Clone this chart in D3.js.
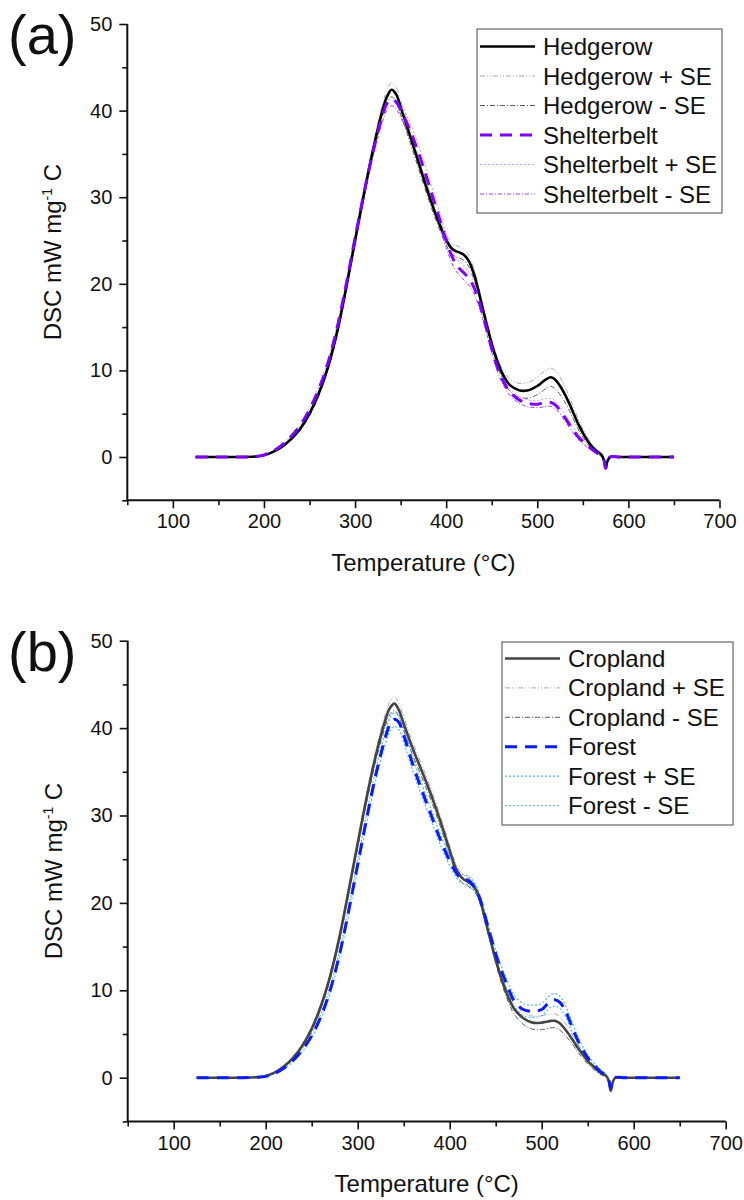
<!DOCTYPE html>
<html>
<head>
<meta charset="utf-8">
<script src="https://cdn.jsdelivr.net/npm/d3@7"></script>
<style>
  html, body { margin: 0; padding: 0; background: #fff; }
  svg { display: block; font-family: "Liberation Sans", Arial, sans-serif; }
</style>
</head>
<body>
<svg id="chart" width="744" height="1200"></svg>
<script>
// Temperature grid (°C) shared by every DSC trace
const temperature = [125,150,175,190,200,210,220,230,240,250,260,270,280,290,300,310,320,330,335,340,345,350,360,370,380,390,400,405,410,415,420,425,430,435,440,445,450,455,460,465,470,480,490,500,505,510,515,520,525,530,535,540,545,550,555,560,565,570,573,575,577,580,590,600,625,650];

// Panel (a) — mean DSC signal (mW mg-1 C) and standard error
const hedgerow = [0,0,0,0.05,0.2,0.6,1.2,2.1,3.3,5.0,7.3,10.3,14.3,19.4,25.0,30.5,35.6,40.0,41.6,42.4,41.9,40.4,37.2,33.9,30.6,27.6,25.1,24.2,23.8,23.6,23.3,22.6,21.3,19.4,17.2,15.1,13.1,11.4,10.0,9.0,8.3,7.7,7.7,8.2,8.6,9.0,9.2,8.9,8.2,7.3,6.2,5.0,3.8,2.8,1.9,1.2,0.7,0.3,-0.3,-1.3,-0.5,0,0,0,0,0];
const hedgerowSE = [0.02,0.02,0.02,0.02,0.02,0.05,0.1,0.15,0.2,0.25,0.3,0.35,0.4,0.45,0.5,0.55,0.6,0.7,0.75,0.8,0.8,0.8,0.75,0.7,0.65,0.6,0.6,0.65,0.65,0.65,0.65,0.65,0.6,0.5,0.4,0.4,0.4,0.45,0.5,0.6,0.7,0.8,0.9,1.0,1.05,1.05,1.05,1.05,1.0,0.9,0.8,0.7,0.6,0.5,0.4,0.3,0.2,0.1,0.1,0.1,0.05,0.02,0.02,0.02,0.02,0.02];
const shelterbelt = [0,0,0,0.05,0.25,0.7,1.4,2.4,3.7,5.5,7.8,10.8,14.8,19.8,25.3,30.6,35.4,39.4,40.8,41.3,41.0,40.1,37.8,35.0,31.8,28.4,25.0,23.5,22.4,21.7,21.2,20.6,19.7,18.3,16.5,14.5,12.5,10.7,9.3,8.3,7.5,6.6,6.2,6.1,6.2,6.3,6.3,6.0,5.4,4.6,3.8,3.0,2.3,1.8,1.3,0.9,0.5,0.2,-0.3,-1.3,-0.5,0,0,0,0,0];
const shelterbeltSE = [0.02,0.02,0.02,0.02,0.02,0.05,0.1,0.15,0.2,0.25,0.3,0.35,0.4,0.45,0.5,0.55,0.6,0.7,0.75,0.75,0.8,0.85,0.9,0.9,0.9,0.85,0.8,0.8,0.8,0.8,0.8,0.75,0.7,0.6,0.5,0.45,0.4,0.4,0.4,0.4,0.4,0.4,0.4,0.4,0.45,0.45,0.45,0.45,0.4,0.4,0.35,0.3,0.3,0.25,0.2,0.15,0.1,0.1,0.1,0.1,0.05,0.02,0.02,0.02,0.02,0.02];

// Panel (b)
const cropland = [0,0,0,0.05,0.2,0.6,1.3,2.3,3.7,5.6,8.2,11.6,16.0,21.3,26.8,32.2,37.0,40.9,42.3,42.8,42.0,40.5,37.6,35.0,32.3,29.3,26.0,24.4,23.3,22.7,22.4,22.0,21.2,19.6,17.5,15.5,13.5,11.7,10.2,8.9,7.9,6.8,6.3,6.3,6.4,6.5,6.5,6.2,5.6,4.9,4.1,3.3,2.6,1.9,1.4,0.9,0.5,0.2,-0.4,-1.5,-0.6,0,0,0,0,0];
const croplandSE = [0.02,0.02,0.02,0.02,0.02,0.05,0.1,0.15,0.2,0.25,0.3,0.35,0.4,0.45,0.5,0.55,0.6,0.7,0.75,0.8,0.8,0.8,0.75,0.7,0.65,0.6,0.55,0.5,0.5,0.5,0.5,0.5,0.45,0.4,0.4,0.4,0.4,0.45,0.5,0.55,0.6,0.7,0.75,0.8,0.8,0.8,0.8,0.75,0.7,0.6,0.5,0.45,0.4,0.35,0.3,0.25,0.2,0.1,0.1,0.1,0.05,0.02,0.02,0.02,0.02,0.02];
const forest = [0,0,0,0.04,0.15,0.5,1.1,2.0,3.2,4.8,7.0,10.0,14.0,19.0,24.4,29.8,34.8,38.9,40.4,41.0,40.6,39.2,35.8,32.8,30.0,27.2,24.8,23.8,23.0,22.7,22.6,22.1,21.2,19.8,17.9,16.0,14.2,12.6,11.2,9.9,8.8,7.8,7.6,7.8,8.3,8.8,8.9,8.6,7.8,6.6,5.3,4.1,3.1,2.3,1.6,1.1,0.6,0.3,-0.3,-1.2,-0.5,0,0,0,0,0];
const forestSE = [0.02,0.02,0.02,0.02,0.02,0.05,0.1,0.15,0.2,0.25,0.3,0.35,0.4,0.45,0.5,0.55,0.6,0.7,0.75,0.8,0.8,0.8,0.75,0.7,0.65,0.6,0.55,0.5,0.5,0.5,0.5,0.5,0.45,0.4,0.4,0.4,0.45,0.5,0.55,0.6,0.65,0.7,0.7,0.7,0.7,0.7,0.7,0.7,0.65,0.6,0.5,0.45,0.4,0.35,0.3,0.25,0.2,0.1,0.1,0.1,0.05,0.02,0.02,0.02,0.02,0.02];

// Axis ticks
const xTicks = [100,200,300,400,500,600,700];
const xMinorTicks = [50,150,250,350,450,550,650];
const yTicks = [0,10,20,30,40,50];
const yMinorTicks = [-5,5,15,25,35,45];

const svg = d3.select("#chart");

function drawPanel(p) {
  const x = d3.scaleLinear().domain([50, 700]).range([p.left, p.right]);
  const y = d3.scaleLinear().domain([-5, 50]).range([p.bottom, p.top]);
  const g = svg.append("g");

  const line = d3.line()
    .x(d => x(d[0]))
    .y(d => y(d[1]))
    .curve(d3.curveCatmullRom.alpha(0.5));

  const pts = vals => temperature.map((t, i) => [t, vals[i]]);
  const plus = (m, s) => m.map((v, i) => v + s[i]);
  const minus = (m, s) => m.map((v, i) => v - s[i]);

  // error-band traces first, means on top
  p.series.forEach(s => {
    g.append("path").attr("d", line(pts(plus(s.mean, s.se))))
      .attr("fill", "none").attr("stroke", s.plusStyle.color)
      .attr("stroke-width", s.plusStyle.width).attr("stroke-dasharray", s.plusStyle.dash);
    g.append("path").attr("d", line(pts(minus(s.mean, s.se))))
      .attr("fill", "none").attr("stroke", s.minusStyle.color)
      .attr("stroke-width", s.minusStyle.width).attr("stroke-dasharray", s.minusStyle.dash);
  });
  p.series.forEach(s => {
    g.append("path").attr("d", line(pts(s.mean)))
      .attr("fill", "none").attr("stroke", s.style.color)
      .attr("stroke-width", s.style.width).attr("stroke-dasharray", s.style.dash)
      .attr("stroke-linejoin", "round");
  });

  // axes
  const xAxis = g.append("g").attr("transform", `translate(0,${p.bottom})`)
    .call(d3.axisBottom(x).tickValues(xTicks).tickSize(8).tickPadding(6).tickFormat(d3.format("d")));
  g.append("g").attr("transform", `translate(0,${p.bottom})`)
    .call(d3.axisBottom(x).tickValues(xMinorTicks).tickSize(5).tickFormat(""))
    .call(a => a.select(".domain").remove());
  const yAxis = g.append("g").attr("transform", `translate(${p.left},0)`)
    .call(d3.axisLeft(y).tickValues(yTicks).tickSize(8).tickPadding(7).tickFormat(d3.format("d")));
  g.append("g").attr("transform", `translate(${p.left},0)`)
    .call(d3.axisLeft(y).tickValues(yMinorTicks).tickSize(5).tickFormat(""))
    .call(a => a.select(".domain").remove());

  g.selectAll(".domain").attr("stroke", "#111").attr("stroke-width", 2);
  xAxis.select(".domain").attr("d", `M${p.left},0H${p.right}`);
  yAxis.select(".domain").attr("d", `M0,${p.bottom}V${p.top}`);
  g.selectAll(".tick line").attr("stroke", "#111").attr("stroke-width", 1.6);
  g.selectAll(".tick text").attr("font-size", 20).attr("fill", "#111")
    .attr("font-family", "Liberation Sans, Arial, sans-serif");

  // axis titles
  g.append("text").attr("x", (p.left + p.right) / 2).attr("y", p.bottom + 71)
    .attr("text-anchor", "middle").attr("font-size", 24).attr("fill", "#111")
    .text("Temperature (°C)");

  const yt = g.append("text")
    .attr("transform", `translate(${p.left - 66},${(p.top + p.bottom) / 2 - 10}) rotate(-90)`)
    .attr("text-anchor", "middle").attr("font-size", 24).attr("fill", "#111");
  yt.append("tspan").text("DSC mW mg");
  yt.append("tspan").attr("dy", -9).attr("font-size", 14).text("-1");
  yt.append("tspan").attr("dy", 9).text(" C");

  // panel letter
  g.append("text").attr("x", 8).attr("y", p.top + 30).attr("font-size", 56)
    .attr("fill", "#111").text(p.letter);

  // legend
  const L = p.legend;
  g.append("rect").attr("x", L.x).attr("y", L.y).attr("width", L.w).attr("height", L.h)
    .attr("fill", "#fff").attr("stroke", "#666").attr("stroke-width", 1.2);
  const entries = [];
  p.series.forEach(s => {
    entries.push({ label: s.name, st: s.style });
    entries.push({ label: s.name + " + SE", st: s.plusStyle });
    entries.push({ label: s.name + " - SE", st: s.minusStyle });
  });
  entries.forEach((e, i) => {
    const cy = L.y + L.row0 + i * L.step;
    g.append("line").attr("x1", L.x + 3).attr("x2", L.x + 58).attr("y1", cy).attr("y2", cy)
      .attr("stroke", e.st.color).attr("stroke-width", e.st.width).attr("stroke-dasharray", e.st.dash);
    g.append("text").attr("x", L.x + 66).attr("y", cy + 8.5).attr("font-size", 24)
      .attr("fill", "#111").text(e.label);
  });
}

drawPanel({
  letter: "(a)",
  left: 127.3, right: 719.5, top: 24, bottom: 500.3,
  legend: { x: 477, y: 29, w: 245, h: 184, row0: 17.5, step: 29.5 },
  series: [
    { name: "Hedgerow", mean: hedgerow, se: hedgerowSE,
      style: { color: "#000", width: 2.6, dash: null },
      plusStyle: { color: "#a8a8a8", width: 1, dash: "5,2,1,2,1,2" },
      minusStyle: { color: "#5a5a5a", width: 1, dash: "5,2,1,2" } },
    { name: "Shelterbelt", mean: shelterbelt, se: shelterbeltSE,
      style: { color: "#7f00ff", width: 3, dash: "12,8" },
      plusStyle: { color: "#c79cff", width: 1, dash: "2,2" },
      minusStyle: { color: "#9a40ff", width: 1, dash: "4,2,1,2" } }
  ]
});

drawPanel({
  letter: "(b)",
  left: 127.7, right: 725.7, top: 640.7, bottom: 1121.4,
  legend: { x: 502, y: 642, w: 231, h: 183, row0: 16.5, step: 29.4 },
  series: [
    { name: "Cropland", mean: cropland, se: croplandSE,
      style: { color: "#444", width: 2.6, dash: null },
      plusStyle: { color: "#a8a8a8", width: 1, dash: "5,2,1,2,1,2" },
      minusStyle: { color: "#5a5a5a", width: 1, dash: "5,2,1,2" } },
    { name: "Forest", mean: forest, se: forestSE,
      style: { color: "#0a1cff", width: 3, dash: "12,8" },
      plusStyle: { color: "#4db8ff", width: 1.2, dash: "2,2" },
      minusStyle: { color: "#4db8ff", width: 1.2, dash: "2,2" } }
  ]
});
</script>
</body>
</html>
